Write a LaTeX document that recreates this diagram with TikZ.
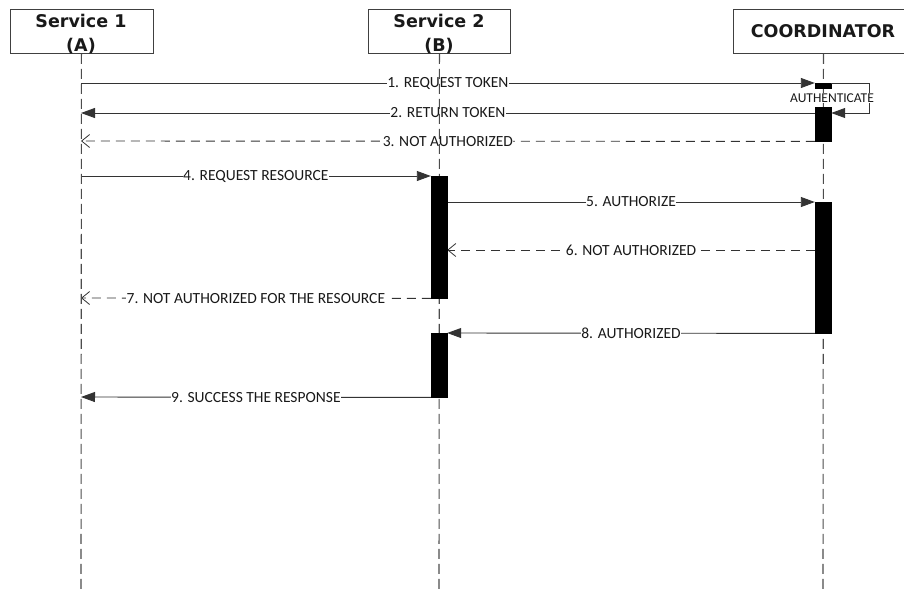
\documentclass[tikz,border=0pt]{standalone}
\usepackage{fontspec}
\setmainfont{Carlito}
\newfontfamily\headfont{DejaVu Sans}
\usetikzlibrary{arrows.meta}
\begin{document}
\begin{tikzpicture}[x=1pt,y=-1pt,
  head/.style={draw=black!75, line width=0.9pt, fill=white, minimum height=44pt, anchor=north west, inner sep=0},
  headtxt/.style={font=\headfont\bfseries\fontsize{17.5}{20}\selectfont, text=black!90, inner sep=0},
  lifeline/.style={draw=black!70, line width=1.1pt, dash pattern=on 10pt off 5pt},
  act/.style={fill=black, draw=black, line width=0.4pt, minimum width=16pt, inner sep=0, anchor=north},
  msg/.style={draw=black!80, line width=0.9pt},
  reply/.style={msg, dash pattern=on 9pt off 6pt},
  solidtip/.style={-{Triangle[length=14pt,width=10pt]}},
  opentip/.style={-{Straight Barb[length=8pt,width=13pt,line width=0.8pt]}},
  lbl/.style={font=\fontsize{15.5}{16}\selectfont, text=black!90, fill=white, inner sep=0.5pt},
]
\useasboundingbox (0,0) rectangle (904,592);
\clip (0,0) rectangle (904,592);

% heads
\node[head, minimum width=143pt] (s1box) at (9.5,9) {};
\node[headtxt] (s1t1) at (81,20.5) {Service 1};
\node[headtxt] (s1t2) at (81,46.5) {(A)};
\node[head, minimum width=142pt] (s2box) at (368,9) {};
\node[headtxt] (s2t1) at (439,20.5) {Service 2};
\node[headtxt] (s2t2) at (439,46.5) {(B)};
\node[head, minimum width=180pt] (cobox) at (733,9) {};
\node[headtxt] (cot) at (823,31) {COORDINATOR};

% coordinates
\coordinate (s1end) at (81,592);
\coordinate (s2end) at (439,592);
\coordinate (coend) at (823,592);
\coordinate (m1s) at (81,83);
\coordinate (m2e) at (81,113);
\coordinate (m3e) at (81,141);
\coordinate (m4s) at (81,176);
\coordinate (c5) at (439,202);
\coordinate (c6) at (439,250);
\coordinate (m7e) at (81,298);
\coordinate (m9e) at (81,397);
\coordinate (selfA) at (869,83);
\coordinate (selfB) at (869,113);

% activation geometry (nodes placed first, drawn later)
\path
  node[act, minimum height=5pt, draw=none, fill=none] (actC1) at (823,83) {}
  node[act, minimum height=34pt, draw=none, fill=none] (actC2) at (823,107) {}
  node[act, minimum height=131pt, draw=none, fill=none] (actC3) at (823,202) {}
  node[act, minimum height=122pt, draw=none, fill=none] (actB1) at (439,176) {}
  node[act, minimum height=64pt, draw=none, fill=none] (actB2) at (439,333) {};

% messages
\draw[msg, solidtip] (m1s) -- (actC1.north west) node[lbl, midway] (l1) {1. REQUEST TOKEN};
\draw[msg, solidtip] (actC2.west |- m2e) -- (m2e) node[lbl, midway] (l2) {2. RETURN TOKEN};
\draw[reply, opentip] (actC2.south west) -- (m3e) node[lbl, midway] (l3) {3. NOT AUTHORIZED};
\draw[msg, solidtip] (m4s) -- (actB1.north west) node[lbl, midway] (l4) {4. REQUEST RESOURCE};
\draw[msg, solidtip] (actB1.east |- c5) -- (actC3.north west) node[lbl, midway] (l5) {5. AUTHORIZE};
\draw[reply, opentip] (actC3.west |- c6) -- (actB1.east |- c6) node[lbl, midway] (l6) {6. NOT AUTHORIZED};
\draw[reply, opentip] (actB1.south west) -- (m7e) node[lbl, midway] (l7) {7. NOT AUTHORIZED FOR THE RESOURCE};
\draw[msg, solidtip] (actC3.south west) -- (actB2.north east) node[lbl, midway] (l8) {8. AUTHORIZED};
\draw[msg, solidtip] (actB2.south west) -- (m9e) node[lbl, midway] (l9) {9. SUCCESS THE RESPONSE};

% lifelines
\draw[lifeline] (s1box.south) -- (s1end);
\draw[lifeline] (s2box.south) -- (s2end);
\draw[lifeline] (cobox.south) -- (coend);

% activations
\node[act, minimum height=5pt] (actC1v) at (823,83) {};
\node[act, minimum height=34pt] (actC2v) at (823,107) {};
\node[act, minimum height=131pt] (actC3v) at (823,202) {};
\node[act, minimum height=122pt] (actB1v) at (439,176) {};
\node[act, minimum height=64pt] (actB2v) at (439,333) {};

% self message
\draw[msg, solidtip] (actC1.north east) -- (selfA) -- (selfB) -- (actC2.east |- selfB);
\node[lbl, font=\fontsize{13.5}{14}\selectfont] (auth) at (832,98) {AUTHENTICATE};
\end{tikzpicture}
\end{document}
